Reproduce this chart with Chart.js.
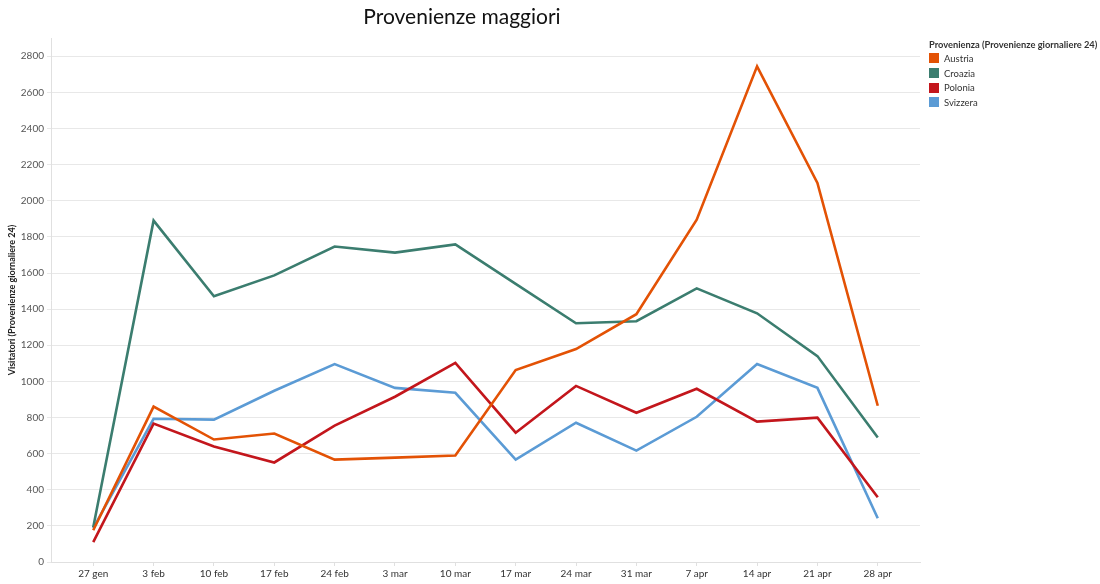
<!DOCTYPE html>
<html>
<head>
<meta charset="utf-8">
<script src="https://cdn.jsdelivr.net/npm/chart.js@4.4.1/dist/chart.umd.min.js"></script>
<style>
  html, body { margin: 0; padding: 0; background: #fff; }
  #wrap { position: relative; width: 1100px; height: 584px; }
  #legend { position: absolute; left: 929px; top: 39px; font-family: Lato, "Open Sans", sans-serif; color: #333; }
  #legend .ttl { font-size: 9.3px; font-weight: bold; margin-bottom: 1px; }
  #legend .item { font-size: 9.5px; height: 14.7px; display: flex; align-items: center; }
  #legend .sw { width: 10px; height: 10px; margin-right: 5px; }
</style>
</head>
<body>
<div id="wrap">
  <canvas id="chart" width="1100" height="584"></canvas>
  <div id="legend"></div>
</div>
<script>
const weeks = ["27 gen", "3 feb", "10 feb", "17 feb", "24 feb", "3 mar", "10 mar", "17 mar", "24 mar", "31 mar", "7 apr", "14 apr", "21 apr", "28 apr"];
const austria = [176, 860, 678, 711, 567, 578, 590, 1063, 1179, 1372, 1895, 2744, 2099, 865];
const croazia = [193, 1890, 1471, 1587, 1747, 1713, 1758, 1540, 1322, 1333, 1515, 1377, 1140, 689];
const polonia = [110, 766, 639, 551, 755, 915, 1102, 716, 975, 826, 959, 777, 799, 358];
const svizzera = [187, 793, 788, 948, 1096, 964, 937, 567, 771, 617, 804, 1096, 964, 242];
const yTicks = [0, 200, 400, 600, 800, 1000, 1200, 1400, 1600, 1800, 2000, 2200, 2400, 2600, 2800];

const series = [
  { name: "Austria", values: austria, color: "#e35205" },
  { name: "Croazia", values: croazia, color: "#3b7d6f" },
  { name: "Polonia", values: polonia, color: "#c3161c" },
  { name: "Svizzera", values: svizzera, color: "#5b9bd5" }
];

const toPoints = arr => arr.map((v, i) => ({ x: i, y: v }));

const datasets = series.map(s => ({
  label: s.name,
  data: toPoints(s.values),
  borderColor: s.color,
  backgroundColor: s.color,
  borderWidth: 2.6,
  pointRadius: 0,
  tension: 0
}));

// legend on the right, like the original
const leg = document.getElementById("legend");
let html = '<div class="ttl">Provenienza (Provenienze giornaliere 24)</div>';
series.forEach(s => {
  html += '<div class="item"><span class="sw" style="background:' + s.color + '"></span>' + s.name + '</div>';
});
leg.innerHTML = html;

const font = "Lato, 'Open Sans', sans-serif";

new Chart(document.getElementById("chart"), {
  type: "line",
  data: { datasets: datasets },
  options: {
    responsive: false,
    animation: false,
    layout: { padding: { left: 4, right: 180, top: 0, bottom: 2 } },
    plugins: {
      legend: { display: false },
      tooltip: { enabled: false },
      title: {
        display: true,
        text: "Provenienze maggiori",
        color: "#111",
        font: { family: font, size: 21, weight: "normal" },
        padding: { top: 5, bottom: 8 }
      }
    },
    scales: {
      x: {
        type: "linear",
        min: -0.7,
        max: 13.7,
        afterBuildTicks: axis => { axis.ticks = weeks.map((w, i) => ({ value: i })); },
        ticks: {
          autoSkip: false,
          maxRotation: 0,
          color: "#333",
          font: { family: font, size: 10 },
          padding: 2,
          callback: v => weeks[v]
        },
        grid: { drawOnChartArea: false, drawTicks: true, tickLength: 4, color: "#e0e0e0" },
        border: { color: "#e0e0e0" }
      },
      y: {
        min: 0,
        max: 2900,
        afterBuildTicks: axis => { axis.ticks = yTicks.map(v => ({ value: v })); },
        ticks: {
          color: "#555",
          font: { family: font, size: 10 },
          padding: 3,
          callback: v => String(v)
        },
        title: {
          display: true,
          text: "Visitatori (Provenienze giornaliere 24)",
          color: "#222",
          font: { family: font, size: 9, weight: "bold" },
          padding: { top: 3, bottom: 0 }
        },
        grid: { color: "#e8e8e8", tickLength: 4 },
        border: { color: "#e0e0e0" }
      }
    }
  }
});
</script>
</body>
</html>
